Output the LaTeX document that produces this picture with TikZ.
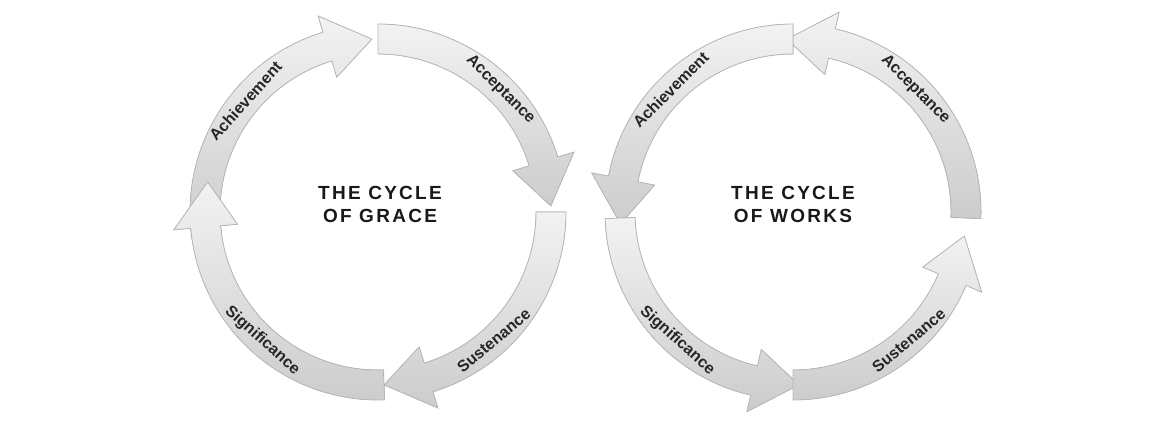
\documentclass[tikz,border=0pt]{standalone}
\usepackage{fontspec}
\setmainfont{Liberation Sans}
\usetikzlibrary{positioning}

% one curved arrow of a cycle: tail angle, tip angle, angle of the head base
\newcommand\cyclearrow[3]{%
  \filldraw[band] (#1:188) arc[start angle=#1,end angle=#3,radius=188]
    -- (#3:205) -- (#2:173) -- (#3:141) -- (#3:158)
    arc[start angle=#3,end angle=#1,radius=158] -- cycle;}

\begin{document}
\begin{tikzpicture}[
    x=1pt,y=1pt,
    band/.style={draw=black!28,line width=0.8pt,top color=black!5,bottom color=black!20},
    step label/.style={font=\bfseries\fontsize{16}{16}\selectfont,text=black!85},
    title label/.style={font=\bfseries\fontsize{19}{23}\selectfont\addfontfeatures{LetterSpace=12},align=center,text=black!90}
]
\useasboundingbox (0,0) rectangle (1150,426);

% cycle of grace (clockwise)
\begin{scope}[shift={(378,214)}]
\cyclearrow{188}{92}{107}
\cyclearrow{90}{2}{17}
\cyclearrow{0}{-88}{-73}
\cyclearrow{-88}{-190}{-175}
\node[step label,rotate=48] (achievement1) at (140:173) {Achievement};
\node[step label,rotate=-45] (acceptance1) at (45:173) {Acceptance};
\node[step label,rotate=40] (sustenance1) at (-48:173) {Sustenance};
\node[step label,rotate=-42] (significance1) at (-132:173) {Significance};
\node[title label] (grace) at (2,8) {THE CYCLE\\OF GRACE};
\end{scope}

% cycle of works (counterclockwise)
\begin{scope}[shift={(793,214)}]
\cyclearrow{-2}{92}{77}
\cyclearrow{90}{184}{169}
\cyclearrow{182}{272}{257}
\cyclearrow{270}{352}{337}
\node[step label,rotate=45] (achievement2) at (135:173) {Achievement};
\node[step label,rotate=-45] (acceptance2) at (45:173) {Acceptance};
\node[step label,rotate=40] (sustenance2) at (-48:173) {Sustenance};
\node[step label,rotate=-42] (significance2) at (-132:173) {Significance};
\node[title label] (works) at (0,8) {THE CYCLE\\OF WORKS};
\end{scope}

\end{tikzpicture}
\end{document}
